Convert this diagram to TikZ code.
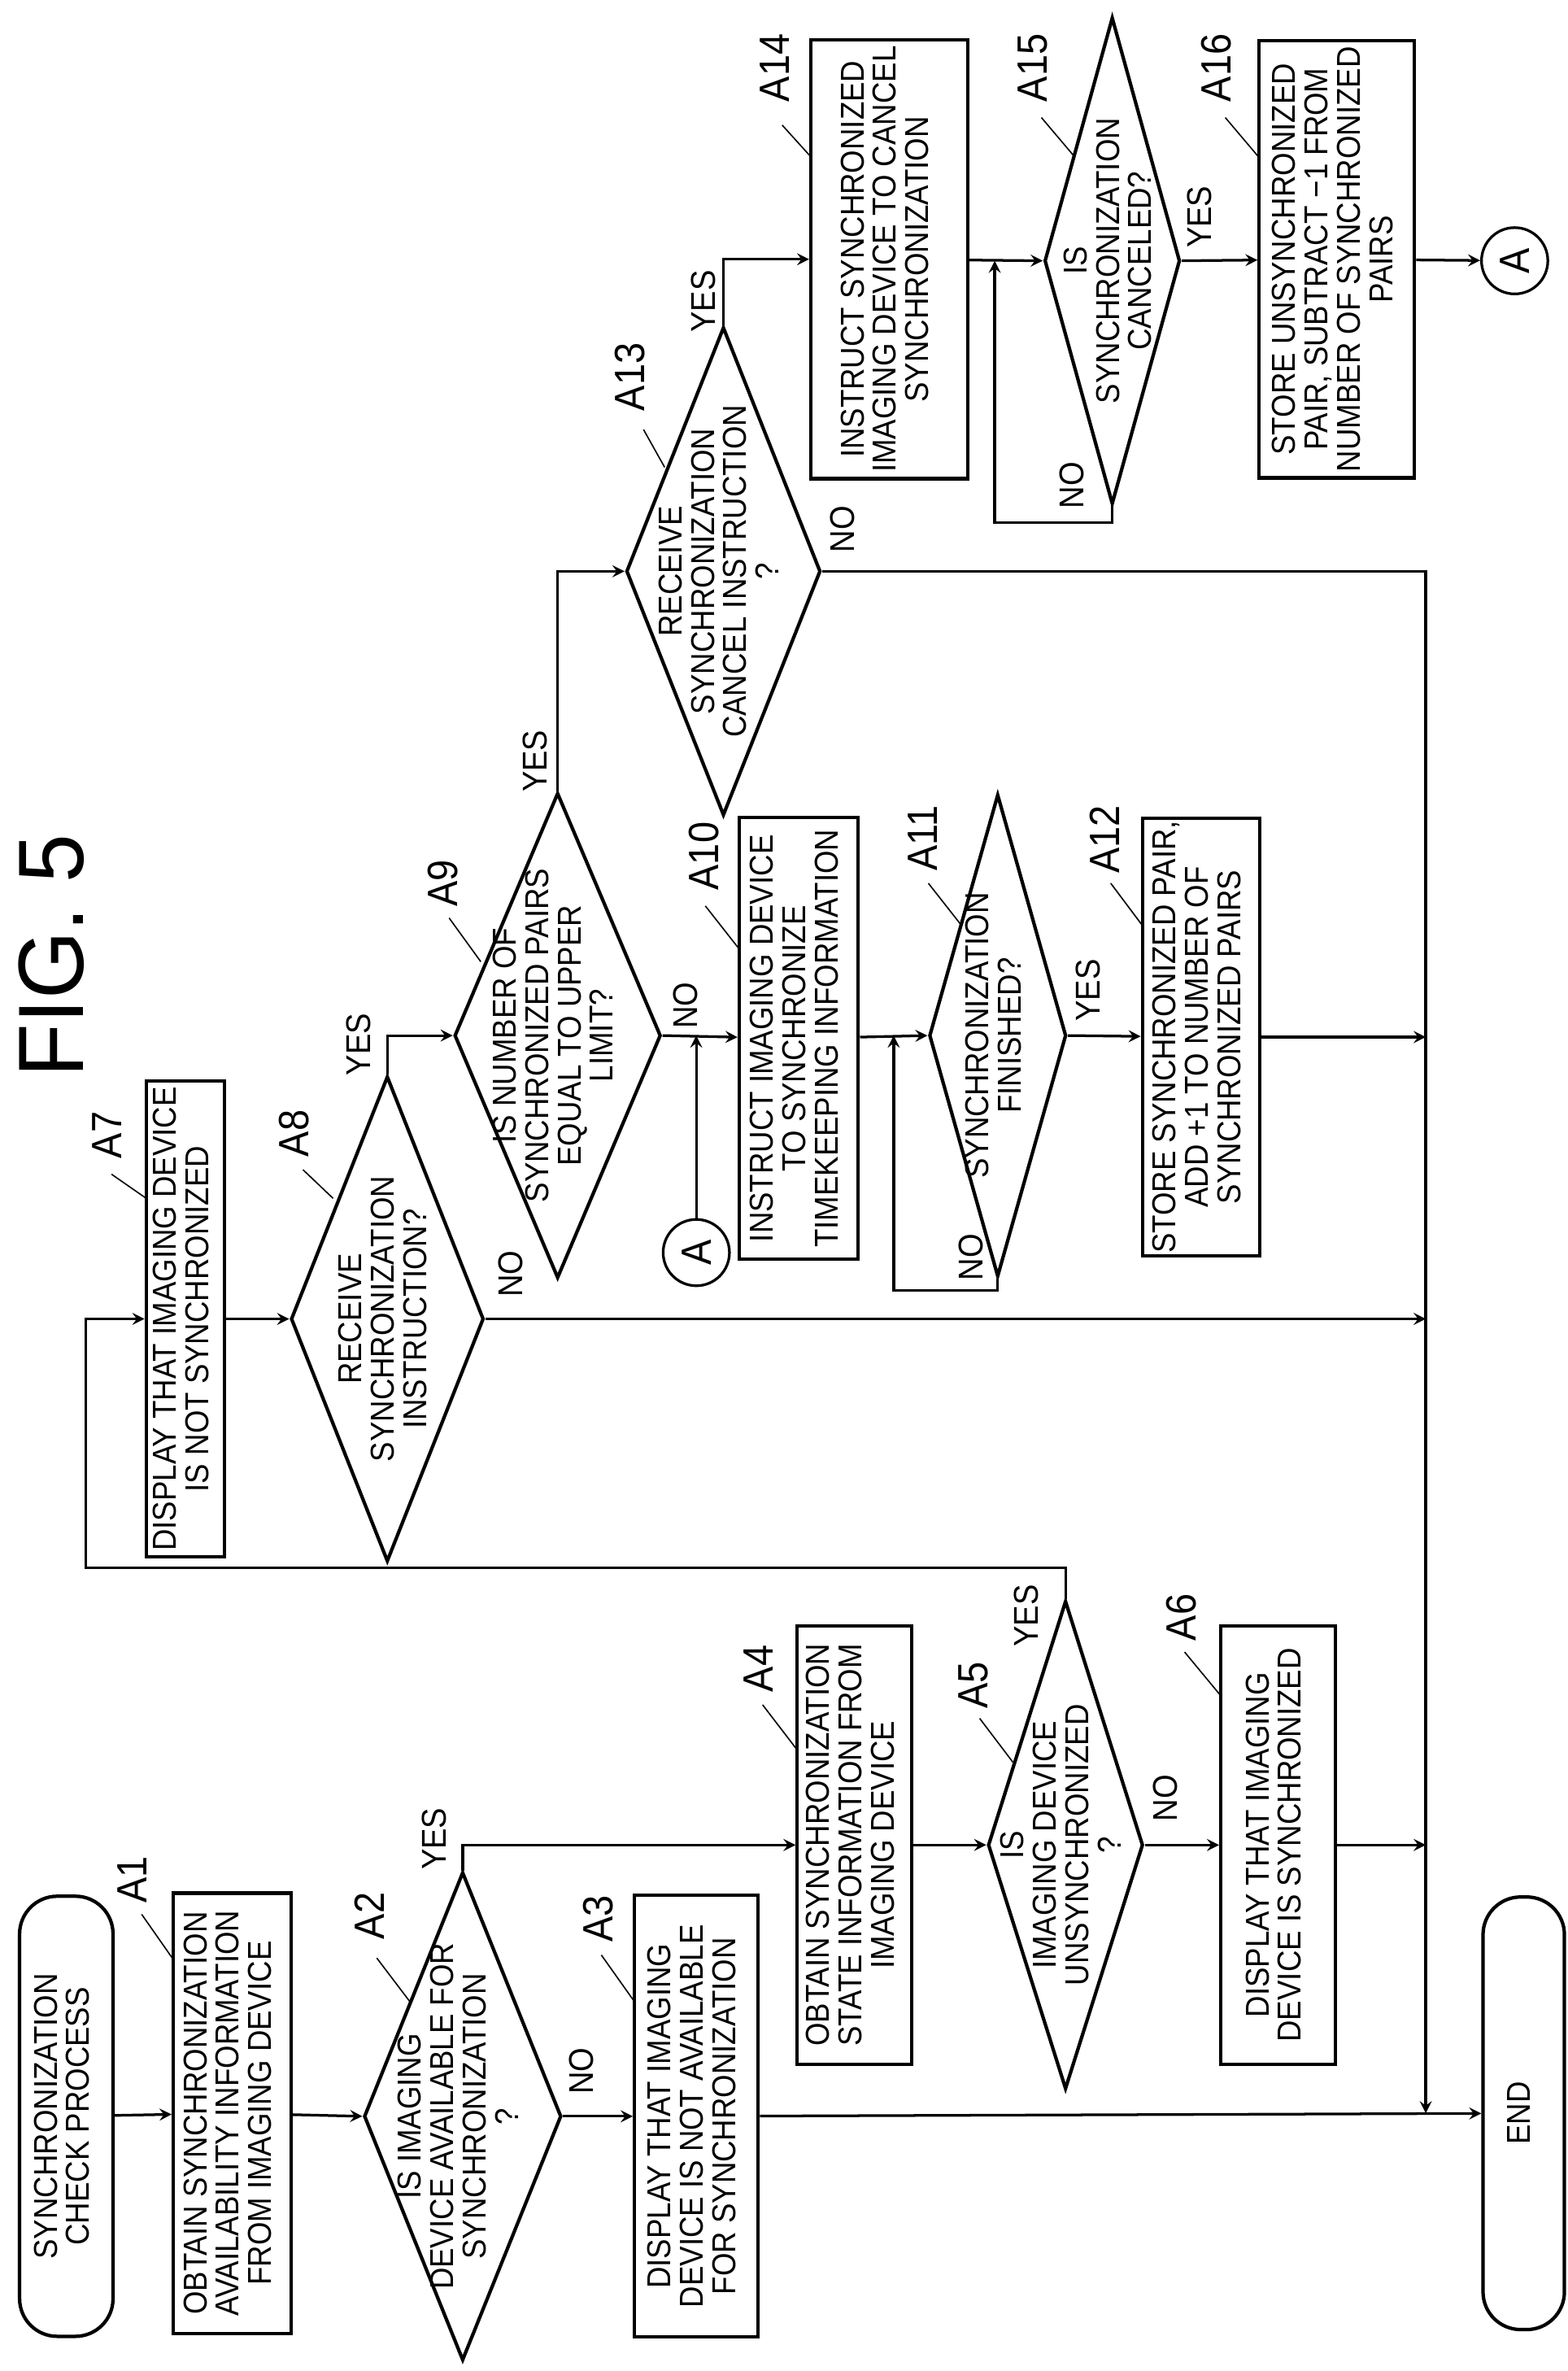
\documentclass[tikz,border=0pt]{standalone}
\usepackage{fontspec}
\setmainfont{Liberation Sans}[FakeStretch=0.9]
\usepackage{graphicx}
\usetikzlibrary{shapes.geometric}

\newcommand{\rt}[1]{\rotatebox{90}{\begin{tabular}{@{}c@{}}#1\end{tabular}}}
\renewcommand{\arraystretch}{0.9}

\tikzset{
	sz/.style 2 args = {minimum width = #1*0.02cm, minimum height = #2*0.02cm},
	box/.style = {draw, line width = 1.3pt, inner sep = 0pt, font = \fontsize{12.5}{13}\selectfont},
	term/.style = {box, rounded corners = 0.5cm},
	dia/.style = {draw, diamond, line width = 1.3pt, inner sep = 0pt},
	txt/.style = {inner sep = 0pt, font = \fontsize{12.5}{13}\selectfont},
	lab/.style = {inner sep = 0pt, font = \fontsize{16}{16}\selectfont},
	yn/.style = {inner sep = 0pt, font = \fontsize{13}{13}\selectfont},
	con/.style = {draw, circle, line width = 1pt, minimum size = 0.88cm, inner sep = 0pt, font = \fontsize{16}{16}\selectfont},
}

\begin{document}
\begin{tikzpicture}[x = 0.02cm, y = -0.02cm, line width = 1pt, >=stealth]
		\useasboundingbox (0, 0) rectangle (1040, 1573);
		%%%%%%%%%%%%%
		\node [inner sep = 0pt] (fig) at (34, 634) {\rotatebox{90}{\resizebox{3.22cm}{0.86cm}{\setmainfont{Liberation Sans}FIG. 5}}};
		%%%%%%%%%%%%% first row
		\node [term, sz = {62}{292}] (start) at (44, 1404) {\rt{SYNCHRONIZATION\\CHECK PROCESS}};
		\node [box, sz = {78}{292}] (a1) at (154, 1402) {\rt{OBTAIN SYNCHRONIZATION\\AVAILABILITY INFORMATION\\FROM IMAGING DEVICE}};
		\node [dia, sz = {131}{324}] (a2) at (307, 1404) {};
		\node [txt] (t2) at (a2) {\rt{IS IMAGING\\DEVICE AVAILABLE FOR\\SYNCHRONIZATION\\?}};
		\node [box, sz = {82}{293}] (a3) at (462, 1404) {\rt{DISPLAY THAT IMAGING\\DEVICE IS NOT AVAILABLE\\FOR SYNCHRONIZATION}};
		\node [term, sz = {54}{287}] (end) at (1011, 1402) {\rt{END}};
		%%%%%%%%%%%%% second row
		\node [box, sz = {76}{291}] (a4) at (567, 1224) {\rt{OBTAIN SYNCHRONIZATION\\STATE INFORMATION FROM\\IMAGING DEVICE}};
		\node [dia, sz = {103}{324}] (a5) at (707, 1224) {};
		\node [txt] (t5) at (a5) {\rt{IS\\IMAGING DEVICE\\UNSYNCHRONIZED\\?}};
		\node [box, sz = {76}{291}] (a6) at (848, 1224) {\rt{DISPLAY THAT IMAGING\\DEVICE IS SYNCHRONIZED}};
		%%%%%%%%%%%%% third row
		\node [box, sz = {52}{316}] (a7) at (123, 875) {\rt{DISPLAY THAT IMAGING DEVICE\\IS NOT SYNCHRONIZED}};
		\node [dia, sz = {128}{322}] (a8) at (257, 875) {};
		\node [txt] (t8) at (a8) {\rt{RECEIVE\\SYNCHRONIZATION\\INSTRUCTION?}};
		%%%%%%%%%%%%% fourth row
		\node [dia, sz = {137}{322}] (a9) at (370, 687) {};
		\node [txt] (t9) at (a9) {\rt{IS NUMBER OF\\SYNCHRONIZED PAIRS\\EQUAL TO UPPER\\LIMIT?}};
		\node [box, sz = {79}{293}] (a10) at (530, 689) {\rt{INSTRUCT IMAGING DEVICE\\TO SYNCHRONIZE\\TIMEKEEPING INFORMATION}};
		\node [dia, sz = {91}{320}] (a11) at (662, 687) {};
		\node [txt] (t11) at (a11) {\rt{SYNCHRONIZATION\\FINISHED?}};
		\node [box, sz = {78}{290}] (a12) at (797, 688) {\rt{STORE SYNCHRONIZED PAIR,\\ADD +1 TO NUMBER OF\\SYNCHRONIZED PAIRS}};
		\node [con] (conB) at (462, 831) {\rotatebox{90}{A}};
		%%%%%%%%%%%%% fifth and sixth rows
		\node [dia, sz = {129}{324}] (a13) at (480, 379) {};
		\node [txt] (t13) at (a13) {\rt{RECEIVE\\SYNCHRONIZATION\\CANCEL INSTRUCTION\\?}};
		\node [box, sz = {104}{291}] (a14) at (590, 172) {\rt{INSTRUCT SYNCHRONIZED\\IMAGING DEVICE TO CANCEL\\SYNCHRONIZATION}};
		\node [dia, sz = {90}{323}] (a15) at (738, 173) {};
		\node [txt] (t15) at (a15) {\rt{IS\\SYNCHRONIZATION\\CANCELED?}};
		\node [box, sz = {103}{290}] (a16) at (887, 172) {\rt{STORE UNSYNCHRONIZED\\PAIR, SUBTRACT −1 FROM\\NUMBER OF SYNCHRONIZED\\PAIRS}};
		\node [con] (conA) at (1005, 173) {\rotatebox{90}{A}};
		%%%%%%%%%%%%% step labels
		\node [lab] (l1) at (88, 1247) {\rotatebox{90}{A1}};
		\node [lab] (l2) at (245, 1271) {\rotatebox{90}{A2}};
		\node [lab] (l3) at (397, 1273) {\rotatebox{90}{A3}};
		\node [lab] (l4) at (503, 1107) {\rotatebox{90}{A4}};
		\node [lab] (l5) at (646, 1118) {\rotatebox{90}{A5}};
		\node [lab] (l6) at (784, 1073) {\rotatebox{90}{A6}};
		\node [lab] (l7) at (71, 753) {\rotatebox{90}{A7}};
		\node [lab] (l8) at (195, 752) {\rotatebox{90}{A8}};
		\node [lab] (l9) at (294, 586) {\rotatebox{90}{A9}};
		\node [lab] (l10) at (467, 568) {\rotatebox{90}{A10}};
		\node [lab] (l11) at (612, 556) {\rotatebox{90}{A11}};
		\node [lab] (l12) at (733, 557) {\rotatebox{90}{A12}};
		\node [lab] (l13) at (418, 250) {\rotatebox{90}{A13}};
		\node [lab] (l14) at (514, 45) {\rotatebox{90}{A14}};
		\node [lab] (l15) at (685, 45) {\rotatebox{90}{A15}};
		\node [lab] (l16) at (807, 45) {\rotatebox{90}{A16}};
		\draw [line width = 0.5pt] (94, 1270) -- (115, 1300);
		\draw [line width = 0.5pt] (250, 1299) -- (272, 1328);
		\draw [line width = 0.5pt] (399, 1297) -- (421, 1328);
		\draw [line width = 0.5pt] (506, 1131) -- (529, 1161);
		\draw [line width = 0.5pt] (650, 1140) -- (672, 1169);
		\draw [line width = 0.5pt] (786, 1096) -- (810, 1125);
		\draw [line width = 0.5pt] (74, 779) -- (97, 795);
		\draw [line width = 0.5pt] (201, 776) -- (221, 795);
		\draw [line width = 0.5pt] (298, 609) -- (319, 638);
		\draw [line width = 0.5pt] (468, 601) -- (490, 629);
		\draw [line width = 0.5pt] (616, 586) -- (638, 614);
		\draw [line width = 0.5pt] (737, 586) -- (758, 614);
		\draw [line width = 0.5pt] (427, 285) -- (441, 310);
		\draw [line width = 0.5pt] (519, 83) -- (538, 104);
		\draw [line width = 0.5pt] (691, 78) -- (713, 104);
		\draw [line width = 0.5pt] (813, 78) -- (835, 104);
		%%%%%%%%%%%%% yes / no
		\node [yn] (y2) at (288, 1220) {\rotatebox{90}{YES}};
		\node [yn] (n2) at (386, 1374) {\rotatebox{90}{NO}};
		\node [yn] (y5) at (681, 1072) {\rotatebox{90}{YES}};
		\node [yn] (n5) at (773, 1193) {\rotatebox{90}{NO}};
		\node [yn] (y8) at (238, 693) {\rotatebox{90}{YES}};
		\node [yn] (n8) at (339, 845) {\rotatebox{90}{NO}};
		\node [yn] (y9) at (355, 505) {\rotatebox{90}{YES}};
		\node [yn] (n9) at (455, 667) {\rotatebox{90}{NO}};
		\node [yn] (y11) at (722, 657) {\rotatebox{90}{YES}};
		\node [yn] (n11) at (644, 834) {\rotatebox{90}{NO}};
		\node [yn] (y13) at (467, 200) {\rotatebox{90}{YES}};
		\node [yn] (n13) at (559, 351) {\rotatebox{90}{NO}};
		\node [yn] (y15) at (796, 144) {\rotatebox{90}{YES}};
		\node [yn] (n15) at (711, 322) {\rotatebox{90}{NO}};
		%%%%%%%%%%%%% helper points
		\coordinate (bus) at (946, 379);
		\coordinate (back5) at (57, 1040);
		\coordinate (back11) at (593, 687);
		\coordinate (back15) at (660, 173);
		%%%%%%%%%%%%% connectors
		\draw [->] (start) -- (a1); \draw [->] (a1) -- (a2.west);
		\draw [->] (a2.east) -- (a3); \draw [->] (a3) -- (end);
		\draw [->] (a2.north) |- (a4.west);
		\draw [->] (a4) -- (a5.west); \draw [->] (a5.east) -- (a6);
		\draw [->] (a6) -- (a6.east -| bus);
		\draw [->] (a5.north) -- (a5.north |- back5) -- (back5) |- (a7.west);
		\draw [->] (a7) -- (a8.west); \draw [->] (a8.east) -- (a8.east -| bus);
		\draw [->] (a8.north) |- (a9.west);
		\draw [->] (a9.east) -- (a10); \draw [->] (conB) -- (conB |- a9.east);
		\draw [->] (a10) -- (a11.west); \draw [->] (a11.east) -- (a12);
		\draw [->] (a12) -- (a12.east -| bus);
		\draw [->] (a11.south) -- ++(0, 8) -| (back11);
		\draw [->] (a9.north) |- (a13.west);
		\draw [->] (a13.east) -- (bus) -- (bus |- end.west);
		\draw [->] (a13.north) |- (a14.west);
		\draw [->] (a14) -- (a15.west); \draw [->] (a15.east) -- (a16);
		\draw [->] (a16) -- (conA);
		\draw [->] (a15.south) -- ++(0, 11) -| (back15);
\end{tikzpicture}
\end{document}
